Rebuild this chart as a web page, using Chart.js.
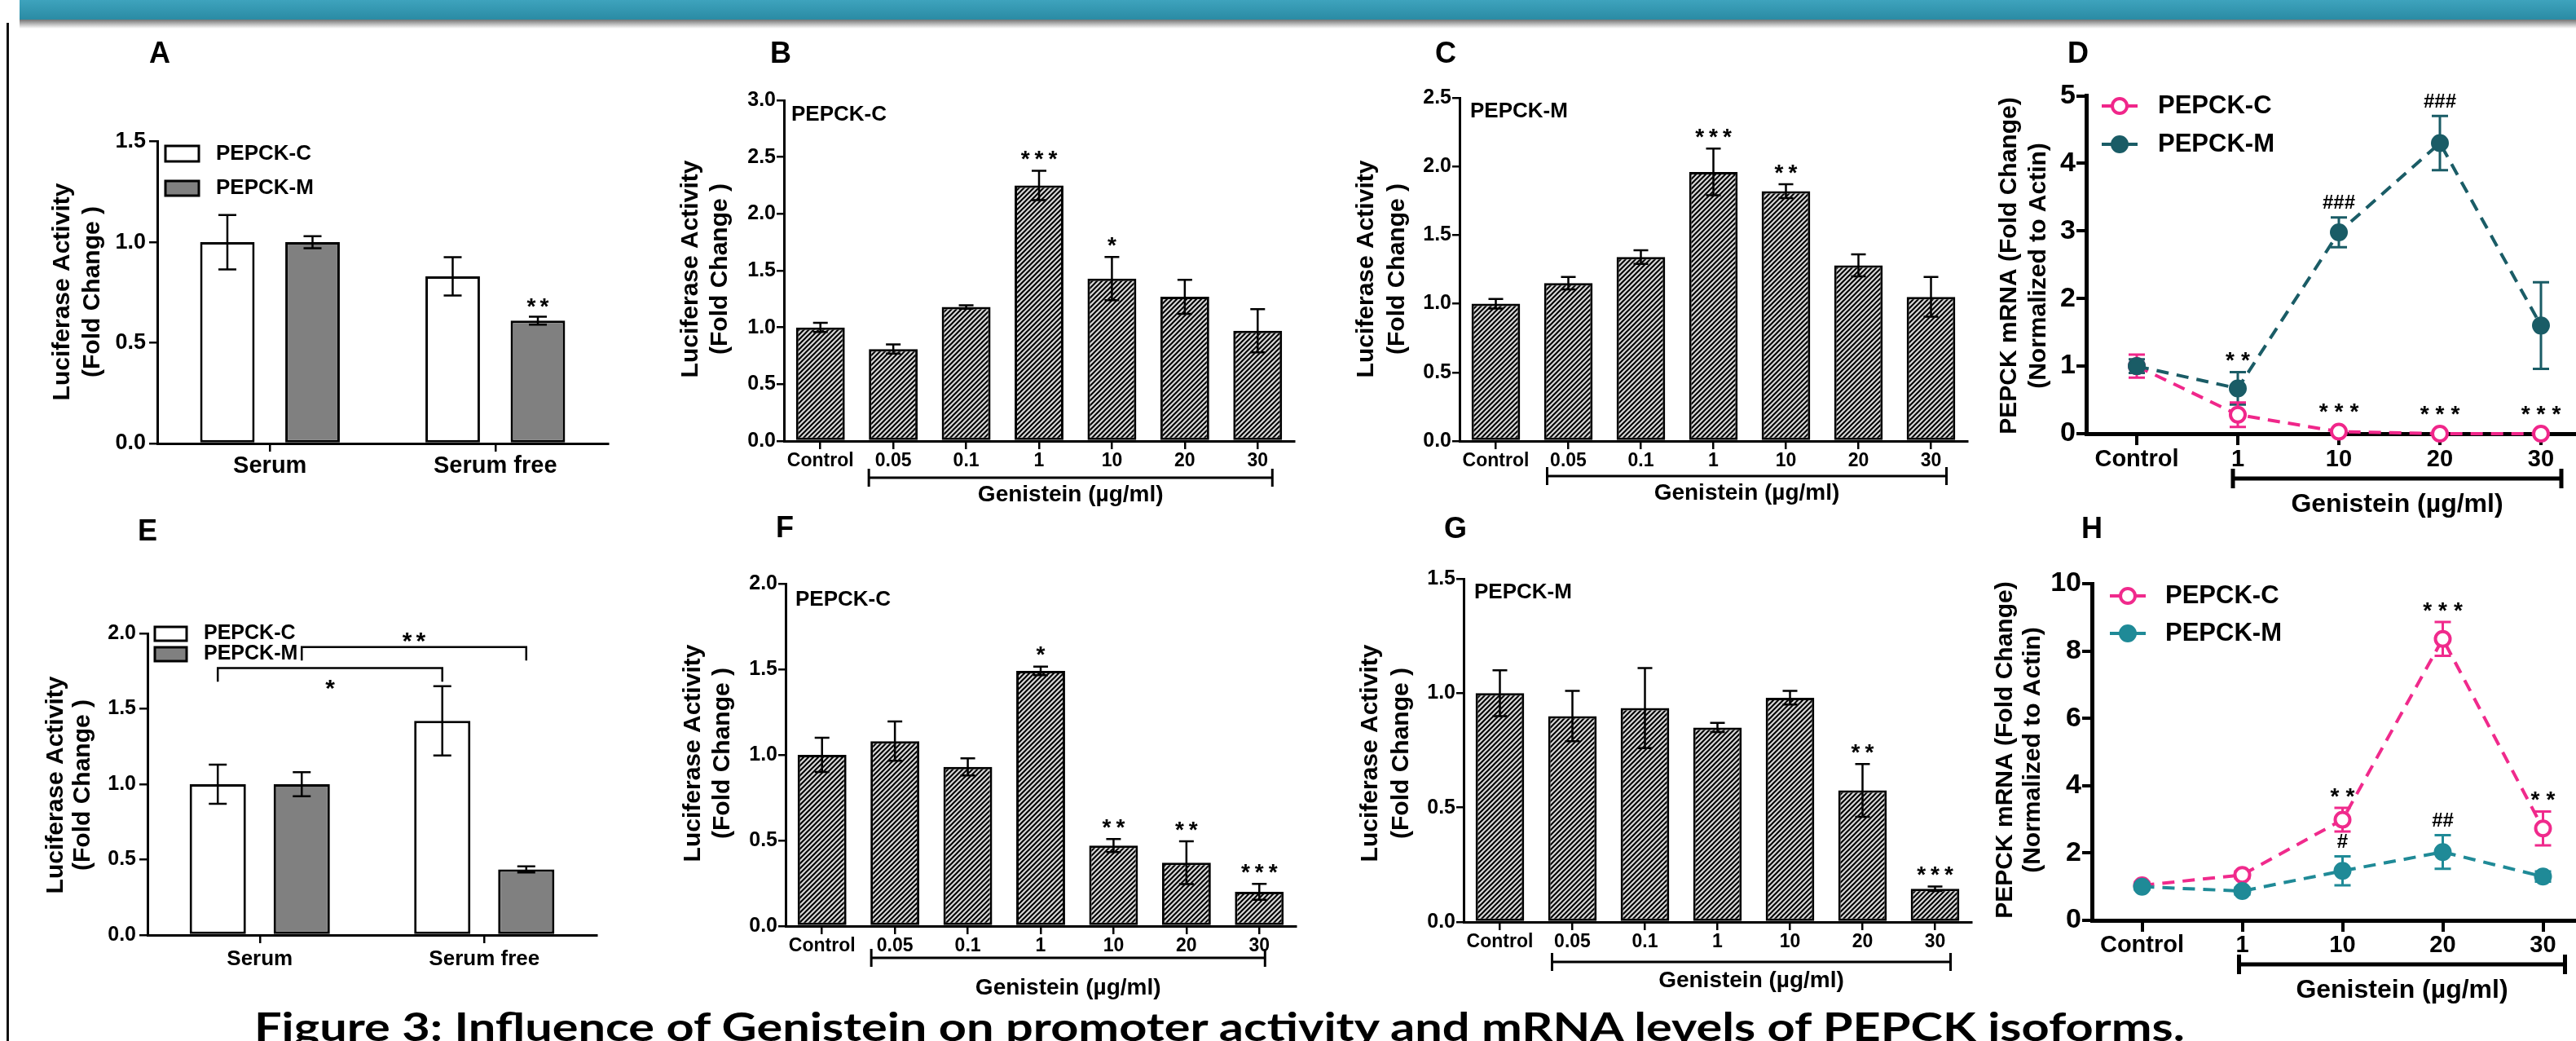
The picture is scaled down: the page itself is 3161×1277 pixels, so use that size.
<!DOCTYPE html>
<html>
<head>
<meta charset="utf-8">
<title>Figure 3</title>
<script src="https://cdn.jsdelivr.net/npm/chart.js@4.4.1/dist/chart.umd.min.js"></script>
<style>
  html, body { margin: 0; padding: 0; background: #fff; }
  body { width: 3161px; height: 1277px; position: relative; overflow: hidden; }
  canvas { position: absolute; }
  #banner { position: absolute; left: 24px; top: 0; width: 3137px; height: 24px; background: linear-gradient(#3ea3bd, #2a8ba4); }
  #shade { position: absolute; left: 24px; top: 24px; width: 3137px; height: 11px; background: linear-gradient(rgba(70,70,70,0.75), rgba(255,255,255,0)); }
  #frame { position: absolute; left: 8px; top: 28px; width: 3px; height: 1249px; background: #111; }
  #caption { position: absolute; left: 312px; top: 1235px; font: bold 48px Lato, "Open Sans", sans-serif; line-height: 48px; white-space: nowrap; color: #000; transform-origin: 0 0; }
</style>
</head>
<body>
<div id="banner"></div>
<div id="shade"></div>
<div id="frame"></div>
<canvas id="pA"></canvas>
<canvas id="pB"></canvas>
<canvas id="pC"></canvas>
<canvas id="pD"></canvas>
<canvas id="pE"></canvas>
<canvas id="pF"></canvas>
<canvas id="pG"></canvas>
<canvas id="pH"></canvas>
<div id="caption">Figure 3: Influence of Genistein on promoter activity and mRNA levels of PEPCK isoforms.</div>
<script>
// ---- data ----
const serumCategories = ['Serum', 'Serum free'];
const doseCategories = ['Control', '0.05', '0.1', '1', '10', '20', '30'];
const mrnaCategories = ['Control', '1', '10', '20', '30'];

// A
const aPepckC = [1.0, 0.83];
const aPepckCErr = [0.135, 0.095];
const aPepckM = [1.0, 0.61];
const aPepckMErr = [0.03, 0.02];
const aStarsM = ['', '**'];

// B (PEPCK-C promoter, serum)
const bValues = [1.0, 0.81, 1.18, 2.25, 1.43, 1.27, 0.97];
const bErr = [0.04, 0.04, 0.015, 0.13, 0.19, 0.15, 0.19];
const bStars = ['', '', '', '***', '*', '', ''];

// C (PEPCK-M promoter, serum)
const cValues = [1.0, 1.15, 1.34, 1.96, 1.82, 1.28, 1.05];
const cErr = [0.035, 0.045, 0.05, 0.17, 0.05, 0.08, 0.145];
const cStars = ['', '', '', '***', '**', '', ''];

// D (mRNA, serum)
const dPepckC = [1.0, 0.28, 0.03, 0.0, 0.0];
const dPepckCErr = [0.17, 0.18, 0.02, 0, 0];
const dStarsC = ['', '', '***', '***', '***'];
const dPepckM = [1.0, 0.67, 2.98, 4.30, 1.6];
const dPepckMErr = [0.1, 0.24, 0.22, 0.4, 0.64];
const dStarsM = ['', '**', '###', '###', ''];

// E
const ePepckC = [1.0, 1.42];
const ePepckCErr = [0.13, 0.23];
const ePepckM = [1.0, 0.435];
const ePepckMErr = [0.08, 0.02];
const eComparisons = [
  { a: [0, 0], b: [0, 1], level: 1.77, drop: 0.09, text: '*', side: 'below' },
  { a: [1, 0], b: [1, 1], level: 1.91, drop: 0.09, text: '**', side: 'above' }
];

// F (PEPCK-C promoter, serum free)
const fValues = [1.0, 1.08, 0.93, 1.49, 0.47, 0.37, 0.2];
const fErr = [0.1, 0.115, 0.05, 0.025, 0.038, 0.125, 0.047];
const fStars = ['', '', '', '*', '**', '**', '***'];

// G (PEPCK-M promoter, serum free)
const gValues = [1.0, 0.9, 0.935, 0.85, 0.98, 0.575, 0.145];
const gErr = [0.1, 0.11, 0.175, 0.02, 0.03, 0.115, 0.01];
const gStars = ['', '', '', '', '', '**', '***'];

// H (mRNA, serum free)
const hPepckC = [1.04, 1.35, 2.99, 8.36, 2.73];
const hPepckCErr = [0.1, 0.1, 0.35, 0.5, 0.5];
const hStarsC = ['', '', '**', '***', '**'];
const hPepckM = [1.0, 0.87, 1.47, 2.03, 1.3];
const hPepckMErr = [0.08, 0.1, 0.43, 0.5, 0.15];
const hStarsM = ['', '', '#', '##', ''];

// ---- drawing helpers ----
const FONT = '"Liberation Sans", Arial, Helvetica, sans-serif';
const font = size => 'bold ' + size + 'px ' + FONT;

function hatch() {
  const c = document.createElement('canvas');
  c.width = 6; c.height = 6;
  const g = c.getContext('2d');
  g.fillStyle = '#d6d6d6';
  g.fillRect(0, 0, 6, 6);
  g.strokeStyle = '#000';
  g.lineWidth = 2;
  g.beginPath();
  g.moveTo(-1, 7); g.lineTo(7, -1);
  g.moveTo(-1, 1); g.lineTo(1, -1);
  g.moveTo(5, 7); g.lineTo(7, 5);
  g.stroke();
  return g.createPattern(c, 'repeat');
}
const HATCH = hatch();

function textAt(ctx, s, x, y, size, align) {
  ctx.font = font(size);
  ctx.textAlign = align || 'center';
  ctx.textBaseline = 'middle';
  ctx.fillStyle = '#000';
  ctx.fillText(s, x, y);
}

function drawMark(ctx, s, x, cy, o) {
  const isHash = s[0] === '#';
  const size = isHash ? (o.hashSize || 24) : (o.starSize || 28);
  const sp = isHash ? 0 : (o.starSp || 0);
  ctx.font = font(size);
  ctx.letterSpacing = sp + 'px';
  ctx.textAlign = 'left';
  ctx.textBaseline = 'alphabetic';
  ctx.fillStyle = '#000';
  const m = ctx.measureText(s);
  const w = m.width - sp;
  ctx.fillText(s, x - w / 2, cy + (m.actualBoundingBoxAscent - m.actualBoundingBoxDescent) / 2);
  ctx.letterSpacing = '0px';
}

function drawErrors(chart, o) {
  const ctx = chart.ctx, ys = chart.scales.y;
  ctx.save();
  chart.data.datasets.forEach((ds, i) => {
    if (!ds.errors) return;
    chart.getDatasetMeta(i).data.forEach((el, j) => {
      const e = ds.errors[j];
      if (!e) return;
      const v = ds.data[j];
      const top = ys.getPixelForValue(v + e);
      const bot = ys.getPixelForValue(Math.max(0, v - e));
      ctx.strokeStyle = ds.errColor || '#000';
      ctx.lineWidth = o.errW;
      ctx.beginPath();
      ctx.moveTo(el.x, top); ctx.lineTo(el.x, bot);
      ctx.moveTo(el.x - o.cap, top); ctx.lineTo(el.x + o.cap, top);
      ctx.moveTo(el.x - o.cap, bot); ctx.lineTo(el.x + o.cap, bot);
      ctx.stroke();
    });
  });
  ctx.restore();
}

function drawStars(chart, o) {
  const ctx = chart.ctx, ys = chart.scales.y;
  chart.data.datasets.forEach((ds, i) => {
    if (!ds.stars) return;
    chart.getDatasetMeta(i).data.forEach((el, j) => {
      const s = ds.stars[j];
      if (!s) return;
      const e = ds.errors ? ds.errors[j] : 0;
      const ref = Math.min(ys.getPixelForValue(ds.data[j] + e), el.y - (o.markR || 0));
      drawMark(ctx, s, el.x, ref - o.starGap, o);
    });
  });
}

const decor = {
  id: 'decor',
  beforeDatasetsDraw(chart, args, o) {
    if (o.errBefore) drawErrors(chart, o);
  },
  afterDatasetsDraw(chart, args, o) {
    if (!o.errBefore) drawErrors(chart, o);
    drawStars(chart, o);
    const ctx = chart.ctx, ox = o.ox, oy = o.oy;
    const xs = chart.scales.x, ys = chart.scales.y;
    ctx.save();
    if (o.letter) textAt(ctx, o.letter[0], o.letter[1] - ox, o.letter[2] - oy, 36);
    if (o.yTitle) {
      o.yTitle.lines.forEach((s, i) => {
        ctx.save();
        ctx.translate(o.yTitle.x[i] - ox, o.yTitle.y - oy);
        ctx.rotate(-Math.PI / 2);
        textAt(ctx, s, 0, 0, 30);
        ctx.restore();
      });
    }
    if (o.inset) textAt(ctx, o.inset[0], o.inset[1] - ox, o.inset[2] - oy, 26, 'left');
    if (o.boxLegend) {
      const L = o.boxLegend;
      chart.data.datasets.forEach((ds, i) => {
        const [t, b] = L.ys[i];
        ctx.fillStyle = ds.backgroundColor;
        ctx.fillRect(L.x - ox, t - oy, L.w, b - t);
        ctx.strokeStyle = '#000';
        ctx.lineWidth = 3;
        ctx.strokeRect(L.x - ox, t - oy, L.w, b - t);
        textAt(ctx, ds.label, L.textX - ox, (t + b) / 2 - oy, L.size, 'left');
      });
    }
    if (o.lineLegend) {
      const L = o.lineLegend;
      L.order.forEach((di, k) => {
        const ds = chart.data.datasets[di];
        const x = L.x - ox, y = L.ys[k] - oy, r = ds.pointRadius;
        ctx.strokeStyle = ds.borderColor;
        ctx.lineWidth = ds.borderWidth;
        ctx.beginPath();
        ctx.moveTo(x - 22, y); ctx.lineTo(x - r, y);
        ctx.moveTo(x + r, y); ctx.lineTo(x + 22, y);
        ctx.stroke();
        ctx.beginPath();
        ctx.arc(x, y, r, 0, Math.PI * 2);
        ctx.fillStyle = ds.pointBackgroundColor;
        ctx.fill();
        ctx.lineWidth = ds.pointBorderWidth;
        ctx.strokeStyle = ds.pointBorderColor;
        ctx.stroke();
        textAt(ctx, ds.label, L.textX - ox, y, L.size, 'left');
      });
    }
    if (o.bracket) {
      const B = o.bracket;
      const x1 = xs.getPixelForValue(B.from) - B.dl, x2 = xs.getPixelForValue(B.to) + B.dr;
      const y = B.y - oy;
      ctx.strokeStyle = '#000';
      ctx.lineWidth = B.lw;
      ctx.beginPath();
      ctx.moveTo(x1, y); ctx.lineTo(x2, y);
      ctx.moveTo(x1, y - B.half); ctx.lineTo(x1, y + B.half);
      ctx.moveTo(x2, y - B.half); ctx.lineTo(x2, y + B.half);
      ctx.stroke();
      textAt(ctx, 'Genistein (\u00b5g/ml)', (x1 + x2) / 2, B.labelY - oy, B.size);
    }
    if (o.compare) {
      o.compare.items.forEach(c => {
        const xa = chart.getDatasetMeta(c.a[0]).data[c.a[1]].x;
        const xb = chart.getDatasetMeta(c.b[0]).data[c.b[1]].x;
        const yl = ys.getPixelForValue(c.level), yd = ys.getPixelForValue(c.level - c.drop);
        ctx.strokeStyle = '#000';
        ctx.lineWidth = o.compare.lw;
        ctx.beginPath();
        ctx.moveTo(xa, yd); ctx.lineTo(xa, yl); ctx.lineTo(xb, yl); ctx.lineTo(xb, yd);
        ctx.stroke();
        const cy = c.side === 'above' ? yl - o.compare.above : yl + o.compare.below;
        drawMark(ctx, c.text, (xa + xb) / 2, cy, o);
      });
    }
    ctx.restore();
  }
};

// rect = canvas box on the page, area = plot area [left, top, right, bottom] on the page
function makePanel(id, rect, area, type, labels, datasets, y, st, deco) {
  const cv = document.getElementById(id);
  cv.width = rect[2];
  cv.height = rect[3];
  cv.style.left = rect[0] + 'px';
  cv.style.top = rect[1] + 'px';
  return new Chart(cv, {
    type: type,
    data: { labels: labels, datasets: datasets },
    options: {
      responsive: false,
      animation: false,
      events: [],
      layout: {
        autoPadding: false,
        padding: { left: 0, bottom: 0, top: area[1] - rect[1], right: rect[0] + rect[2] - area[2] }
      },
      plugins: {
        legend: { display: false },
        tooltip: { enabled: false },
        decor: Object.assign({ ox: rect[0], oy: rect[1] }, st, deco)
      },
      scales: {
        x: {
          type: 'category',
          offset: true,
          afterFit: s => { s.height = rect[1] + rect[3] - area[3]; },
          grid: { display: true, drawOnChartArea: false, drawTicks: true, tickLength: st.xTick, lineWidth: st.tickW, color: '#000', offset: false },
          border: { display: true, color: '#000', width: st.axisW },
          ticks: { color: '#000', font: { family: FONT, size: st.xFont, weight: 'bold' }, padding: st.xPad, autoSkip: false, maxRotation: 0 }
        },
        y: {
          min: 0,
          max: y.max,
          afterFit: s => { s.width = area[0] - rect[0]; },
          grid: { drawOnChartArea: false, drawTicks: true, tickLength: st.yTick, lineWidth: st.tickW, color: '#000' },
          border: { display: true, color: '#000', width: st.axisW },
          ticks: { stepSize: y.step, color: '#000', font: { family: FONT, size: st.yFont, weight: 'bold' }, padding: st.yPad, callback: y.fmt }
        }
      }
    },
    plugins: [decor]
  });
}

const oneDecimal = v => v.toFixed(1);
const integer = v => String(v);

const serumStyle = { xFont: 29, yFont: 27, xTick: 10, yTick: 10, axisW: 3, tickW: 2.5, xPad: 1, yPad: 4, errW: 2.5, cap: 11, starSize: 28, starSp: 5, starGap: 17 };
const doseStyle = { xFont: 23, yFont: 25, xTick: 10, yTick: 9, axisW: 3, tickW: 2.5, xPad: 1, yPad: 1, errW: 2.5, cap: 9, starSize: 28, starSp: 6, starGap: 19 };
const mrnaStyle = { xFont: 29, yFont: 34, xTick: 14, yTick: 12, axisW: 5, tickW: 4, xPad: 1, yPad: 1, errW: 3, cap: 10, starSize: 28, starSp: 8, hashSize: 24, starGap: 19, markR: 10, errBefore: true };
const lucTitle = ['Luciferase Activity', '(Fold Change )'];
const mrnaTitle = ['PEPCK mRNA (Fold Change)', '(Normalized to Actin)'];

function groupBars(c, cErr, m, mErr, mStars, barPct, catPct) {
  return [
    { label: 'PEPCK-C', data: c, errors: cErr, backgroundColor: '#ffffff', borderColor: '#000', borderWidth: 3, borderSkipped: false, barPercentage: barPct, categoryPercentage: catPct },
    { label: 'PEPCK-M', data: m, errors: mErr, stars: mStars, backgroundColor: '#808080', borderColor: '#000', borderWidth: 3, borderSkipped: false, barPercentage: barPct, categoryPercentage: catPct }
  ];
}
function hatchBars(values, err, stars) {
  return [{ label: 'Luciferase', data: values, errors: err, stars: stars, backgroundColor: HATCH, borderColor: '#000', borderWidth: 3, borderSkipped: false, barPercentage: 0.67, categoryPercentage: 1 }];
}
function mrnaLines(c, cErr, cStars, m, mErr, mStars, pink, teal) {
  const common = { borderWidth: 4, borderDash: [15, 10], tension: 0, clip: false };
  return [
    Object.assign({ label: 'PEPCK-M', data: m, errors: mErr, stars: mStars, errColor: teal, borderColor: teal, pointRadius: 10, pointBackgroundColor: teal, pointBorderColor: teal, pointBorderWidth: 2 }, common),
    Object.assign({ label: 'PEPCK-C', data: c, errors: cErr, stars: cStars, errColor: pink, borderColor: pink, pointRadius: 9, pointBackgroundColor: '#ffffff', pointBorderColor: pink, pointBorderWidth: 4 }, common)
  ];
}

// ---- panels ----
makePanel('pA', [12, 30, 770, 610], [193, 173.6, 746, 544], 'bar', serumCategories,
  groupBars(aPepckC, aPepckCErr, aPepckM, aPepckMErr, aStarsM, 0.64, 0.756),
  { max: 1.5, step: 0.5, fmt: oneDecimal }, serumStyle,
  { letter: ['A', 196, 67], yTitle: { lines: lucTitle, x: [77, 114], y: 358 },
    boxLegend: { x: 203, w: 41, ys: [[179, 198], [222, 240]], textX: 265, size: 26 } });

makePanel('pB', [785, 30, 820, 610], [962, 123, 1588, 541], 'bar', doseCategories,
  hatchBars(bValues, bErr, bStars), { max: 3.0, step: 0.5, fmt: oneDecimal }, doseStyle,
  { letter: ['B', 958, 67], yTitle: { lines: lucTitle, x: [848, 884], y: 330 }, inset: ['PEPCK-C', 971, 141],
    bracket: { from: 1, to: 6, dl: 30, dr: 18, y: 586, half: 11, lw: 3, labelY: 607, size: 28 } });

makePanel('pC', [1605, 30, 835, 610], [1791, 120, 2414, 541], 'bar', doseCategories,
  hatchBars(cValues, cErr, cStars), { max: 2.5, step: 0.5, fmt: oneDecimal }, doseStyle,
  { letter: ['C', 1774, 67], yTitle: { lines: lucTitle, x: [1677, 1715], y: 330 }, inset: ['PEPCK-M', 1804, 137],
    bracket: { from: 1, to: 6, dl: 26, dr: 19, y: 584, half: 11, lw: 3, labelY: 605, size: 28 } });

makePanel('pD', [2420, 30, 780, 610], [2560, 117.5, 3180, 532], 'line', mrnaCategories,
  mrnaLines(dPepckC, dPepckCErr, dStarsC, dPepckM, dPepckMErr, dStarsM, '#f0268a', '#1a5c66'),
  { max: 5, step: 1, fmt: integer }, mrnaStyle,
  { letter: ['D', 2550, 67], yTitle: { lines: mrnaTitle, x: [2466, 2502], y: 326 },
    lineLegend: { order: [1, 0], x: 2601, ys: [130, 177], textX: 2648, size: 31 },
    bracket: { from: 1, to: 4, dl: 6, dr: 25, y: 587, half: 12, lw: 5, labelY: 619, size: 32 } });

makePanel('pE', [12, 620, 770, 657], [181, 777, 732, 1147], 'bar', serumCategories,
  groupBars(ePepckC, ePepckCErr, ePepckM, ePepckMErr, null, 0.67, 0.748),
  { max: 2.0, step: 0.5, fmt: oneDecimal },
  Object.assign({}, serumStyle, { xFont: 26, yFont: 25, xPad: 4, starSize: 30 }),
  { letter: ['E', 181, 653], yTitle: { lines: lucTitle, x: [69, 102], y: 963 },
    boxLegend: { x: 190, w: 39, ys: [[769, 786], [794, 811]], textX: 250, size: 25 },
    compare: { items: eComparisons, lw: 2.5, above: 12, below: 20 } });

makePanel('pF', [785, 620, 820, 657], [964, 716, 1590, 1136], 'bar', doseCategories,
  hatchBars(fValues, fErr, fStars), { max: 2.0, step: 0.5, fmt: oneDecimal }, doseStyle,
  { letter: ['F', 963, 649], yTitle: { lines: lucTitle, x: [851, 887], y: 924 }, inset: ['PEPCK-C', 976, 736],
    bracket: { from: 1, to: 6, dl: 29, dr: 7, y: 1175, half: 11, lw: 3, labelY: 1212, size: 28 } });

makePanel('pG', [1605, 620, 835, 657], [1796, 710, 2419, 1131], 'bar', doseCategories,
  hatchBars(gValues, gErr, gStars), { max: 1.5, step: 0.5, fmt: oneDecimal }, doseStyle,
  { letter: ['G', 1786, 650], yTitle: { lines: lucTitle, x: [1682, 1720], y: 924 }, inset: ['PEPCK-M', 1809, 727],
    bracket: { from: 1, to: 6, dl: 25, dr: 19, y: 1180, half: 11, lw: 3, labelY: 1203, size: 28 } });

makePanel('pH', [2420, 620, 780, 657], [2567, 716, 3182, 1129], 'line', mrnaCategories,
  mrnaLines(hPepckC, hPepckCErr, hStarsC, hPepckM, hPepckMErr, hStarsM, '#f02a8c', '#1f8a97'),
  { max: 10, step: 2, fmt: integer }, Object.assign({}, mrnaStyle, { xPad: 0 }),
  { letter: ['H', 2567, 650], yTitle: { lines: mrnaTitle, x: [2461, 2495], y: 920 },
    lineLegend: { order: [1, 0], x: 2611, ys: [731, 777], textX: 2657, size: 31 },
    bracket: { from: 1, to: 4, dl: 4, dr: 27, y: 1183, half: 12, lw: 5, labelY: 1215, size: 32 } });

// caption squeezed to the width it has in the figure
function fitCaption() {
  const cap = document.getElementById('caption');
  cap.style.transform = 'none';
  cap.style.transform = 'scaleX(' + (2369 / cap.offsetWidth) + ')';
}
fitCaption();
if (document.fonts) document.fonts.ready.then(fitCaption);
</script>
</body>
</html>
